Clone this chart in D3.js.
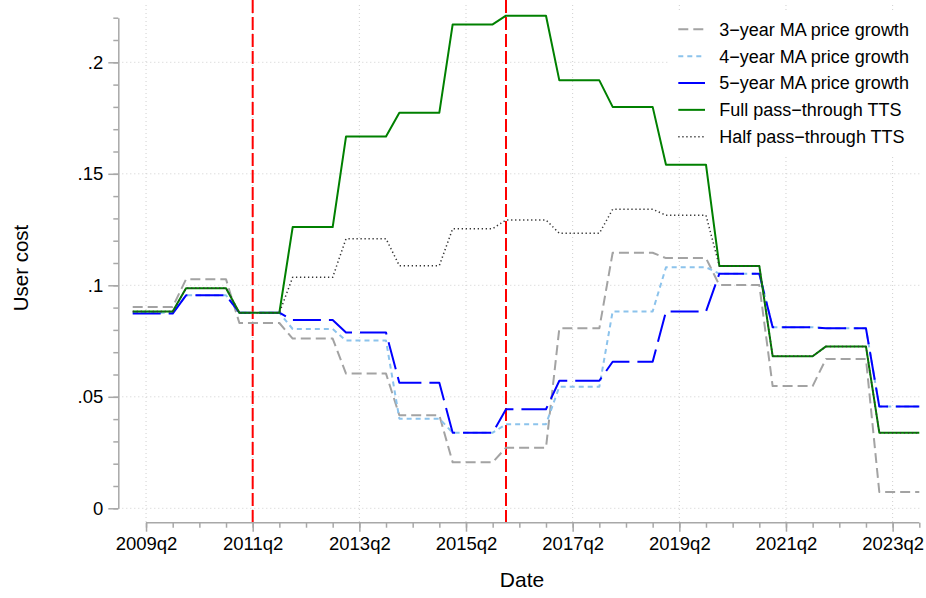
<!DOCTYPE html>
<html>
<head>
<meta charset="utf-8">
<script src="https://cdn.jsdelivr.net/npm/d3@7"></script>
<style>
  html, body { margin: 0; padding: 0; background: #fff; }
  svg { display: block; font-family: "Liberation Sans", Arial, Helvetica, sans-serif; }
</style>
</head>
<body>
<svg id="chart" width="926" height="598"></svg>
<script>
// ---- Data (annual values, each held for the four quarters of the year) ----
const years = [2009, 2010, 2011, 2012, 2013, 2014, 2015, 2016, 2017, 2018, 2019, 2020, 2021, 2022, 2023];
const ma3 = [0.0903, 0.1027, 0.0831, 0.0761, 0.0604, 0.0417, 0.0206, 0.0272, 0.0807, 0.1146, 0.1122, 0.1001, 0.0548, 0.0670, 0.0073];
const ma4 = [0.0877, 0.0955, 0.0877, 0.0804, 0.0752, 0.0402, 0.0339, 0.0377, 0.0545, 0.0883, 0.1081, 0.1052, 0.0812, 0.0807, 0.0456];
const ma5 = [0.0873, 0.0955, 0.0877, 0.0844, 0.0788, 0.0563, 0.0339, 0.0444, 0.0572, 0.0657, 0.0883, 0.1052, 0.0812, 0.0807, 0.0456];
const fullTTS = [0.0882, 0.0987, 0.0877, 0.1261, 0.1667, 0.1774, 0.2170, 0.2209, 0.1919, 0.1800, 0.1541, 0.1087, 0.0682, 0.0726, 0.0339];
const halfTTS = [0.0882, 0.0987, 0.0877, 0.1036, 0.1209, 0.1088, 0.1254, 0.1293, 0.1233, 0.1341, 0.1314, 0.1087, 0.0682, 0.0726, 0.0339];
const seriesNames = ["3\u2212year MA price growth", "4\u2212year MA price growth", "5\u2212year MA price growth", "Full pass\u2212through TTS", "Half pass\u2212through TTS"];
const xTickLabels = ["2009q2", "2011q2", "2013q2", "2015q2", "2017q2", "2019q2", "2021q2", "2023q2"];
const yTickValues = [0, 0.05, 0.1, 0.15, 0.2];
const yTickLabels = ["0", ".05", ".1", ".15", ".2"];
const vLines = ["2011q2", "2016q1"];
const startYear = 2009;

// ---- Helpers ----
const qIndex = s => (parseInt(s.slice(0, 4)) - startYear) * 4 + (parseInt(s.slice(5)) - 1);
const lastQ = years.length * 4 - 1;

const styles = [
  { color: "#a3a3a3", dash: "10,5", width: 2 },
  { color: "#8cc3ec", dash: "5,4", width: 2 },
  { color: "#0000ff", dash: "28,8", width: 2 },
  { color: "#008000", dash: null, width: 2 },
  { color: "#333333", dash: "1.3,2.7", width: 1.5 }
];
const allSeries = [ma3, ma4, ma5, fullTTS, halfTTS];

const svg = d3.select("#chart");
const x = d3.scaleLinear().domain([0, lastQ]).range([132.7, 919.3]);
const y = d3.scaleLinear().domain([0, 0.22]).range([508.3, 17.7]);
const axisColor = "#a8a8a8";
const gridColor = "#cfcfcf";
const xAxisY = 522.7, yAxisX = 118.3;
const plotTop = 5, plotRight = 922;

// ---- Grid ----
const grid = svg.append("g");
grid.selectAll("line.h").data(yTickValues).join("line")
  .attr("x1", yAxisX).attr("x2", plotRight)
  .attr("y1", d => y(d)).attr("y2", d => y(d))
  .attr("stroke", gridColor).attr("stroke-width", 1).attr("stroke-dasharray", "1,3");
grid.selectAll("line.v").data(xTickLabels).join("line")
  .attr("x1", d => x(qIndex(d))).attr("x2", d => x(qIndex(d)))
  .attr("y1", plotTop).attr("y2", xAxisY)
  .attr("stroke", gridColor).attr("stroke-width", 1).attr("stroke-dasharray", "1,3");

// ---- Reference vertical lines ----
svg.append("g").selectAll("line").data(vLines).join("line")
  .attr("x1", d => x(qIndex(d))).attr("x2", d => x(qIndex(d)))
  .attr("y1", 0).attr("y2", xAxisY)
  .attr("stroke", "#ff0000").attr("stroke-width", 2).attr("stroke-dasharray", "13,4");

// ---- Series lines ----
const line = d3.line().x(d => x(d.q)).y(d => y(d.v));
const toPoints = arr => arr.flatMap((v, i) => [{ q: i * 4, v }, { q: i * 4 + 3, v }]);
allSeries.forEach((arr, i) => {
  const st = styles[i];
  svg.append("path").datum(toPoints(arr))
    .attr("d", line)
    .attr("fill", "none")
    .attr("stroke", st.color)
    .attr("stroke-width", st.width)
    .attr("stroke-dasharray", st.dash)
    .attr("stroke-linejoin", "round");
});

// ---- Y axis ----
const yMinor = d3.range(0, 23).map(i => i / 100);
const yAxisG = svg.append("g").attr("transform", `translate(${yAxisX},0)`);
yAxisG.call(d3.axisLeft(y).tickValues(yMinor).tickSize(5).tickSizeOuter(0).tickFormat(""));
const yMajG = svg.append("g").attr("transform", `translate(${yAxisX},0)`);
yMajG.call(d3.axisLeft(y).tickValues(yTickValues).tickSize(10).tickPadding(5).tickSizeOuter(0)
  .tickFormat((d, i) => yTickLabels[i]));
yMajG.select(".domain").remove();

// ---- X axis ----
const xMinor = d3.range(1, lastQ + 1, 2);
const xAxisG = svg.append("g").attr("transform", `translate(0,${xAxisY})`);
xAxisG.call(d3.axisBottom(x).tickValues(xMinor).tickSize(5).tickSizeOuter(0).tickFormat(""));
xAxisG.select(".domain").remove();
xAxisG.append("line").attr("x1", x(1)).attr("x2", x(lastQ)).attr("y1", 0).attr("y2", 0)
  .attr("stroke", axisColor).attr("stroke-width", 1.5);
const xMajG = svg.append("g").attr("transform", `translate(0,${xAxisY})`);
xMajG.call(d3.axisBottom(x).tickValues(xTickLabels.map(qIndex)).tickSize(9).tickPadding(5).tickSizeOuter(0)
  .tickFormat((d, i) => xTickLabels[i]));
xMajG.select(".domain").remove();

svg.selectAll(".tick line").attr("stroke", axisColor).attr("stroke-width", 1.5);
svg.selectAll(".domain").attr("stroke", axisColor).attr("stroke-width", 1.5);
svg.selectAll(".tick text").attr("fill", "#000").style("font-size", "18.5px")
  .style("font-family", "'Liberation Sans', Arial, Helvetica, sans-serif");

// ---- Axis titles ----
svg.append("text").attr("x", 522).attr("y", 587).attr("text-anchor", "middle")
  .style("font-size", "21px").text("Date");
svg.append("text").attr("transform", "translate(27.5,268) rotate(-90)").attr("text-anchor", "middle")
  .style("font-size", "20.5px").text("User cost");

// ---- Legend ----
const legend = svg.append("g");
legend.append("rect").attr("x", 668).attr("y", 10).attr("width", 254).attr("height", 147).attr("fill", "#fff");
seriesNames.forEach((name, i) => {
  const ly = 29.3 + i * 26.85;
  const st = styles[i];
  legend.append("line").attr("x1", 678.3).attr("x2", 705).attr("y1", ly).attr("y2", ly)
    .attr("stroke", st.color).attr("stroke-width", st.width).attr("stroke-dasharray", st.dash);
  legend.append("text").attr("x", 719.3).attr("y", ly).attr("dy", "0.36em")
    .style("font-size", "18px").text(name);
});
</script>
</body>
</html>
